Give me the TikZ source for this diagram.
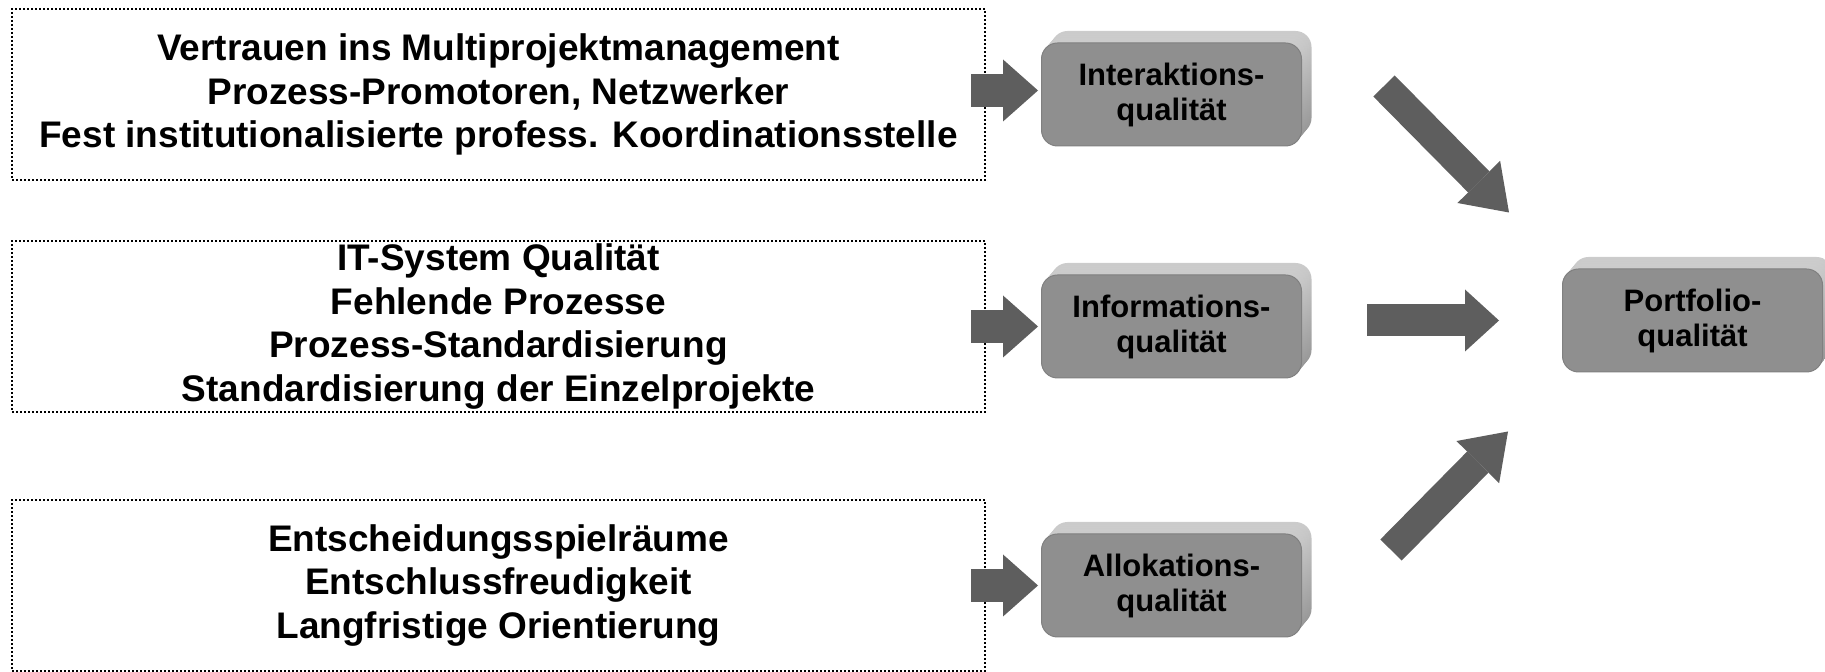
\documentclass[tikz,border=0pt]{standalone}
\usepackage{fontspec}
\setmainfont{Liberation Sans}
\usetikzlibrary{arrows.meta,positioning,calc}

\begin{document}
\begin{tikzpicture}[x=0.5pt,y=-0.5pt,
    factor node/.style={draw,line width=1pt,dash pattern=on 1pt off 1pt,minimum width=486.5pt,minimum height=85.5pt,inner sep=0pt,align=center,font=\bfseries\fontsize{18.5}{21.75}\selectfont},
    depth/.style={preaction={top color=black!20,bottom color=black!42,transform canvas={xshift=#1*1pt,yshift=#1*1.2pt}}},
    quality node/.style={rectangle,rounded corners=8pt,fill=black!44,draw=black!50,line width=0.5pt,minimum width=130pt,minimum height=51.5pt,inner sep=0pt,align=center,font=\bfseries\fontsize{15.5}{17.5}\selectfont,
      depth=5,depth=4,depth=3,depth=2,depth=1},
    small arrow/.style={color=black!63,line width=16.5pt,-{Triangle[length=17.5pt,width=31pt,line width=0pt]}},
    big arrow/.style={color=black!63,line width=16pt,-{Triangle[length=17pt,width=31pt,line width=0pt]}},
    diag arrow/.style={color=black!63,line width=15pt,-{Triangle[length=21.5pt,width=30pt,line width=0pt]}}]

  \useasboundingbox (0,0) rectangle (1825,672);

  % factors
  \node[factor node] (txtinter) at (498.5,94.5) {Vertrauen ins Multiprojektmanagement\\Prozess-Promotoren, Netzwerker\\Fest institutionalisierte profess. Koordinationsstelle};
  \node[factor node] (txtinfo) at (498.5,326.5) {IT-System Qualität\\Fehlende Prozesse\\Prozess-Standardisierung\\Standardisierung der Einzelprojekte};
  \node[factor node] (txtalloc) at (498.5,585.5) {Entscheidungsspielräume\\Entschlussfreudigkeit\\Langfristige Orientierung};

  % qualities
  \node[quality node] (inter) [right=27.5pt of txtinter] {Interaktions-\\qualität};
  \node[quality node] (info) [right=27.5pt of txtinfo] {Informations-\\qualität};
  \node[quality node] (alloc) [right=27.5pt of txtalloc] {Allokations-\\qualität};
  \node[quality node] (portfolio) [right=130pt of info,yshift=3pt] {Portfolio-\\qualität};

  \draw[small arrow] ($(inter.west -| txtinter.east)+(-7.5pt,2pt)$) -- ($(inter.west)+(-1.5pt,2pt)$);
  \draw[small arrow] ($(info.west -| txtinfo.east)+(-7.5pt,0)$) -- ($(info.west)+(-1.5pt,0)$);
  \draw[small arrow] ($(alloc.west -| txtalloc.east)+(-7.5pt,0)$) -- ($(alloc.west)+(-1.5pt,0)$);

  \draw[diag arrow] ($(inter.east)+(41pt,4.25pt)$) -- ($(portfolio.north west)+(-26.5pt,28pt)$);
  \draw[big arrow] ($(info.east |- portfolio.west)+(32.5pt,0)$) -- ($(portfolio.west)+(-31.5pt,0)$);
  \draw[diag arrow] ($(alloc.east)+(44.5pt,17.75pt)$) -- ($(portfolio.south west)+(-27pt,-29.5pt)$);

\end{tikzpicture}
\end{document}
